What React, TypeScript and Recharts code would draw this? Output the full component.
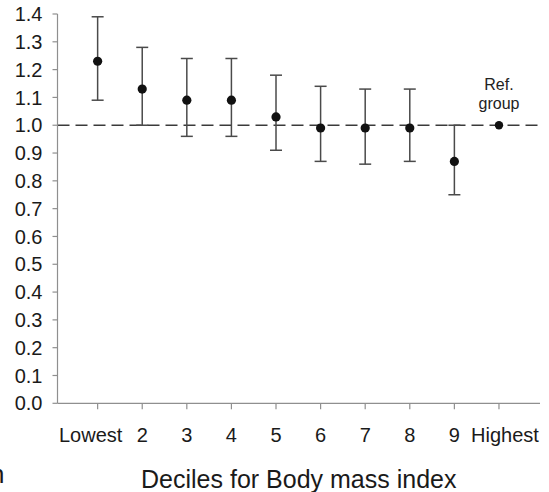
import React from 'react';
import {
  ComposedChart,
  Scatter,
  XAxis,
  YAxis,
  ErrorBar,
  ReferenceLine,
  LabelList,
  Customized,
} from 'recharts';

// Odds ratios (with 95% CI) by decile of body mass index
const decileLabels = ['Lowest', '2', '3', '4', '5', '6', '7', '8', '9', 'Highest'];
const decilePositions = [1, 2, 3, 4, 5, 6, 7, 8, 9, 10];
const estimates = [1.23, 1.13, 1.09, 1.09, 1.03, 0.99, 0.99, 0.99, 0.87, 1.0];
const lowerCI = [1.09, 1.0, 0.96, 0.96, 0.91, 0.87, 0.86, 0.87, 0.75];
const upperCI = [1.39, 1.28, 1.24, 1.24, 1.18, 1.14, 1.13, 1.13, 1.0];
const yTicks = [0, 0.1, 0.2, 0.3, 0.4, 0.5, 0.6, 0.7, 0.8, 0.9, 1.0, 1.1, 1.2, 1.3, 1.4];
const refNote = ['Ref.', 'group'];

const FONT = '"Liberation Sans", Arial, sans-serif';
const AXIS_COLOR = '#8f8f8f';

const decileData = lowerCI.map((lo, i) => ({
  pos: decilePositions[i],
  or: estimates[i],
  ci: [estimates[i] - lo, upperCI[i] - estimates[i]],
}));

const refData = [
  { pos: decilePositions[9], or: estimates[9], note: refNote.join(' ') },
];

const Dot = (props: any) => {
  const { cx, cy } = props;
  if (cx == null || cy == null) return null;
  return <circle cx={cx} cy={cy} r={4.6} fill="#111" />;
};

const RefDot = (props: any) => {
  const { cx, cy } = props;
  if (cx == null || cy == null) return null;
  return <circle cx={cx} cy={cy} r={4.2} fill="#111" />;
};

const XTick = (props: any) => {
  const { x, y, index } = props;
  const dx = index === 0 ? -7 : index === decileLabels.length - 1 ? 6 : 0;
  return (
    <text
      x={x + dx}
      y={y}
      dy="0.71em"
      textAnchor="middle"
      fontSize={20}
      fontFamily={FONT}
      fill="#1a1a1a"
    >
      {decileLabels[index]}
    </text>
  );
};

const RefNote = (props: any) => {
  const { x, y, width, value } = props;
  if (!value) return null;
  const cx = x + (width || 0) / 2;
  return (
    <g fontFamily={FONT} fontSize={16} fill="#222" textAnchor="middle">
      <text x={cx} y={y - 31}>{refNote[0]}</text>
      <text x={cx} y={y - 12}>{refNote[1]}</text>
    </g>
  );
};

const EdgeText = () => (
  <text x={4.5} y={483} textAnchor="end" fontSize={26} fontFamily={FONT} fill="#1a1a1a">
    n
  </text>
);

export default function App() {
  return (
    <div style={{ position: 'absolute', left: 0, top: 0, background: '#fff' }}>
      <ComposedChart
        width={549}
        height={492}
        margin={{ top: 14, right: 9, bottom: 0, left: 0 }}
      >
        <XAxis
          type="number"
          dataKey="pos"
          domain={[0.1, 10.92]}
          ticks={decilePositions}
          interval={0}
          allowDataOverflow
          height={88.7}
          tickSize={6}
          tickMargin={18}
          axisLine={{ stroke: AXIS_COLOR, strokeWidth: 1.2 }}
          tickLine={{ stroke: AXIS_COLOR, strokeWidth: 1.2 }}
          tick={<XTick />}
          label={{
            value: 'Deciles for Body mass index',
            position: 'insideBottom',
            offset: 4,
            fontSize: 25,
            fontFamily: FONT,
            fill: '#1a1a1a',
          }}
        />
        <YAxis
          type="number"
          domain={[0, 1.4]}
          ticks={yTicks}
          interval={0}
          width={57.5}
          tickSize={5}
          tickMargin={10}
          axisLine={{ stroke: AXIS_COLOR, strokeWidth: 1.2 }}
          tickLine={{ stroke: AXIS_COLOR, strokeWidth: 1.2 }}
          tickFormatter={(v: number) => v.toFixed(1)}
          tick={{ fontSize: 20, fontFamily: FONT, fill: '#1a1a1a' }}
        />
        <ReferenceLine
          y={1}
          stroke="#3a3a3a"
          strokeWidth={1.3}
          strokeDasharray="12 6"
        />
        <Scatter
          data={decileData}
          dataKey="or"
          shape={<Dot />}
          isAnimationActive={false}
        >
          <ErrorBar
            dataKey="ci"
            direction="y"
            width={6}
            stroke="#4a4a4a"
            strokeWidth={1.5}
            isAnimationActive={false}
          />
        </Scatter>
        <Scatter
          data={refData}
          dataKey="or"
          shape={<RefDot />}
          isAnimationActive={false}
        >
          <LabelList dataKey="note" content={<RefNote />} />
        </Scatter>
        <Customized component={EdgeText} />
      </ComposedChart>
    </div>
  );
}
